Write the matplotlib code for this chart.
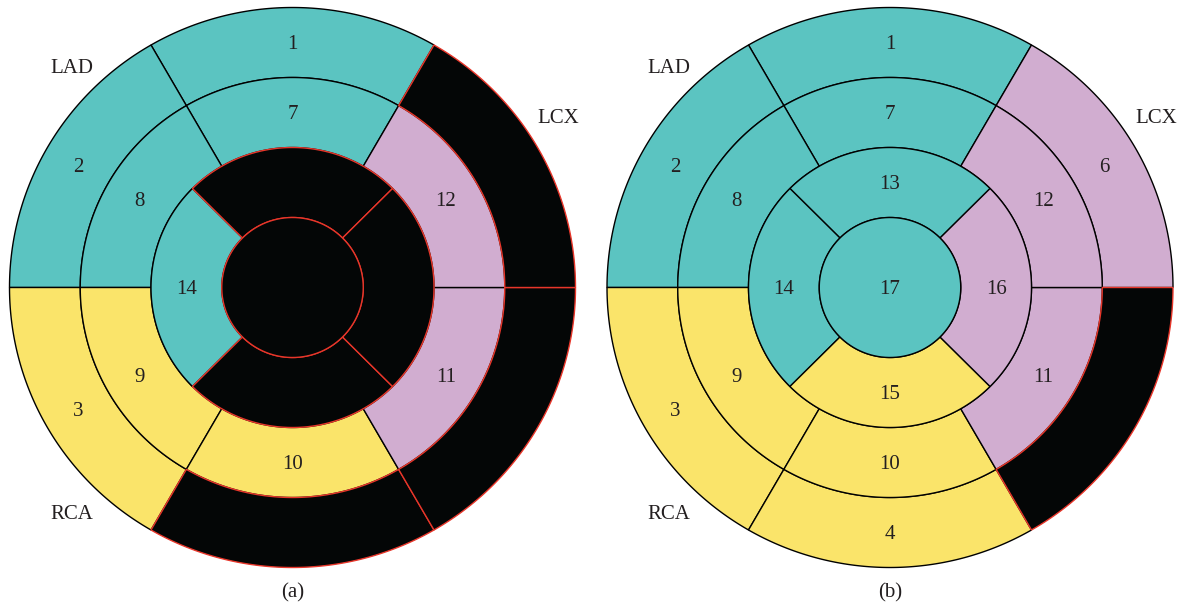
import numpy as np
import matplotlib
matplotlib.use("Agg")
import matplotlib.pyplot as plt
from matplotlib.patches import Polygon

# AHA 17-segment model: segment numbers and coronary territory of each
segments = list(range(1, 18))
territory = ["LAD", "LAD", "RCA", "RCA", "LCX", "LCX",
             "LAD", "LAD", "RCA", "RCA", "LCX", "LCX",
             "LAD", "LAD", "RCA", "LCX",
             "LAD"]

# Segments rendered as non-viable (black) in each panel
scar_a = [4, 5, 6, 13, 15, 16, 17]
scar_b = [5]

panel_labels = ["(a)", "(b)"]
territory_names = ["LAD", "LCX", "RCA"]

territory_colors = {"LAD": "#5BC4C1", "RCA": "#FAE46A", "LCX": "#D1ADD0"}
scar_color = "#040606"
scar_edge = "#E8362A"
text_color = "#231F20"
FS = 15
TEXT_DY = 2.0  # small baseline nudge for the serif labels

W, H = 1178, 612
fig = plt.figure(figsize=(W / 100, H / 100), dpi=100)
ax = fig.add_axes([0, 0, 1, 1])
ax.set_xlim(0, W)
ax.set_ylim(H, 0)
ax.axis("off")

R = 283.0
SY = 280.0 / 283.0
ring_r = [0.0, 0.25 * R, 0.5 * R, 0.75 * R, R]


def segment_geometry(seg):
    """Return (r_in, r_out, theta_start, theta_end) in degrees, CCW from +x."""
    if seg <= 6:
        k = seg - 1
        t0 = 60 + 60 * k
        return ring_r[3], ring_r[4], t0, t0 + 60
    if seg <= 12:
        k = seg - 7
        t0 = 60 + 60 * k
        return ring_r[2], ring_r[3], t0, t0 + 60
    if seg <= 16:
        k = seg - 13
        t0 = 45 + 90 * k
        return ring_r[1], ring_r[2], t0, t0 + 90
    return 0.0, ring_r[1], 0, 360


def wedge_points(cx, cy, r_in, r_out, t0, t1, n=120):
    th = np.radians(np.linspace(t0, t1, n))
    xo = cx + r_out * np.cos(th)
    yo = cy - r_out * np.sin(th) * SY
    if r_in <= 0:
        return np.column_stack([xo, yo])
    xi = cx + r_in * np.cos(th[::-1])
    yi = cy - r_in * np.sin(th[::-1]) * SY
    return np.column_stack([np.concatenate([xo, xi]), np.concatenate([yo, yi])])


def label(x, y, s):
    ax.text(x, y + TEXT_DY, s, ha="center", va="center", fontsize=FS,
            family="Liberation Serif", color=text_color)


def draw_bullseye(cx, cy, scar, caption):
    # colored segments first, then scar segments so their red outline sits on top
    order = [s for s in segments if s not in scar] + [s for s in segments if s in scar]
    for seg in order:
        r_in, r_out, t0, t1 = segment_geometry(seg)
        pts = wedge_points(cx, cy, r_in, r_out, t0, t1)
        if seg in scar:
            fc, ec = scar_color, scar_edge
        else:
            fc, ec = territory_colors[territory[seg - 1]], "black"
        ax.add_patch(Polygon(pts, closed=True, facecolor=fc, edgecolor=ec,
                             linewidth=1.0, joinstyle="miter"))
        if seg not in scar:
            if r_in <= 0:
                tx, ty = cx, cy
            else:
                rm = (r_in + r_out) / 2
                tm = np.radians((t0 + t1) / 2)
                tx = cx + rm * np.cos(tm)
                ty = cy - rm * np.sin(tm) * SY
            label(tx, ty, str(seg))

    offsets = {"LAD": (-221, -221), "LCX": (+266, -171), "RCA": (-221, +225)}
    for name in territory_names:
        dx, dy = offsets[name]
        label(cx + dx, cy + dy, name)
    label(cx, 591, caption)


draw_bullseye(292.5, 287.5, scar_a, panel_labels[0])
draw_bullseye(890.0, 287.5, scar_b, panel_labels[1])

fig.savefig("out.png", dpi=100, facecolor="white")
